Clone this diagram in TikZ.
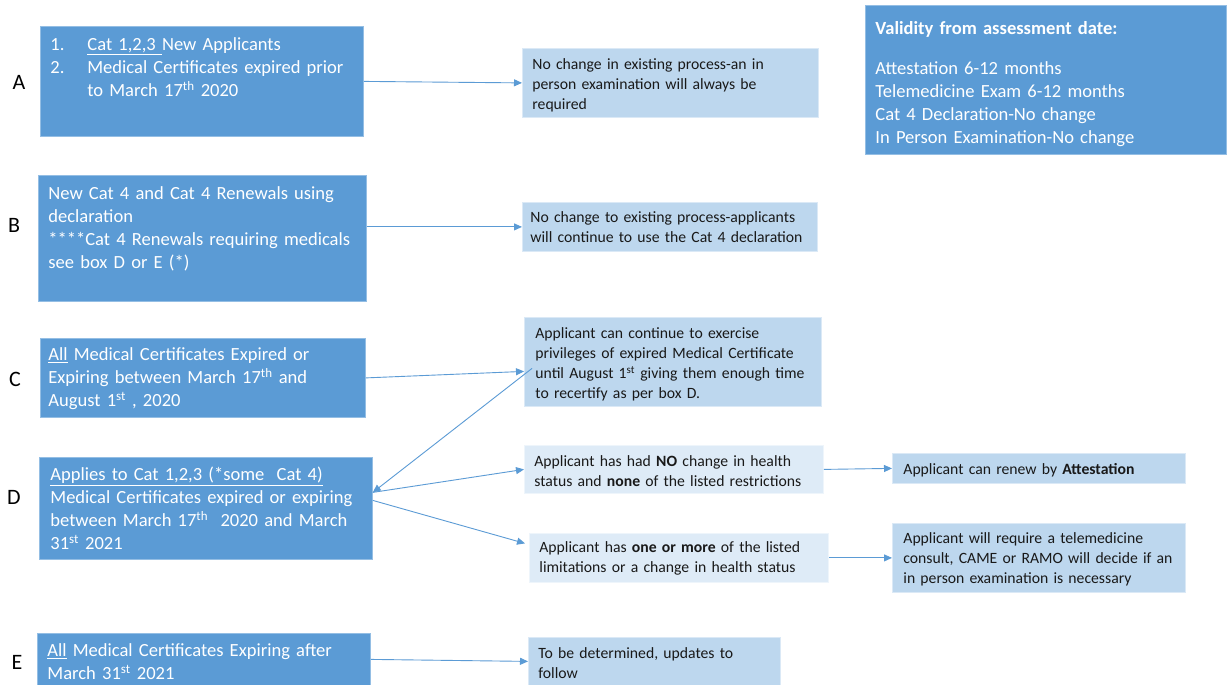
\documentclass[tikz,border=0pt]{standalone}
\usepackage{fontspec}
\setmainfont{Carlito}
\usetikzlibrary{arrows.meta}
\definecolor{boxdark}{RGB}{91,155,213}
\definecolor{boxlight}{RGB}{189,215,238}
\definecolor{boxpale}{RGB}{222,235,247}
\definecolor{linkblue}{RGB}{91,155,213}
\tikzset{
  darkbox/.style={anchor=north west, fill=boxdark, draw=boxdark!65!white, line width=0.8pt,
    text=white, align=left, inner ysep=0pt, font=\fontsize{18.55}{23}\selectfont},
  lightbox/.style={anchor=north west, fill=boxlight, draw=boxlight!55!white, line width=0.8pt,
    text=black!90, align=left, inner ysep=0pt, font=\fontsize{15.7}{20}\selectfont},
  palebox/.style={lightbox, fill=boxpale, draw=boxpale!50!white},
  rowlabel/.style={font=\fontsize{22}{26}\selectfont, text=black},
  link/.style={draw=linkblue, line width=0.9pt, -{Triangle[length=8pt,width=7pt]}}
}
\begin{document}
\begin{tikzpicture}[x=1pt, y=-1pt]
\fill[white] (0,0) rectangle (1231,685);
\useasboundingbox (0,0) rectangle (1231,685);

% Row labels
\node[rowlabel] (labA) at (19,82) {A};
\node[rowlabel] (labB) at (14,225) {B};
\node[rowlabel] (labC) at (15,379) {C};
\node[rowlabel] (labD) at (14,497) {D};
\node[rowlabel] (labE) at (17,662) {E};

% Validity
\node[darkbox, inner xsep=10pt, text width=341pt, text height=29pt, text depth=120pt] (validity) at (865,5)
  {\textbf{Validity from assessment date:}\\[17pt]
   Attestation 6-12 months\\
   Telemedicine Exam 6-12 months\\
   Cat 4 Declaration-No change\\
   In Person Examination-No change};

% Row A
\node[darkbox, inner xsep=10pt, text width=303pt, text height=24pt, text depth=86pt] (boxA) at (40,26)
  {\makebox[37pt][l]{1.}\underline{Cat 1,2,3\ }New Applicants\\
   \makebox[37pt][l]{2.}Medical Certificates expired prior\\
   \hspace*{37pt}to March 17\textsuperscript{th} 2020};
\node[lightbox, inner xsep=10pt, text width=276pt, text height=21.5pt, text depth=47.5pt] (noteA) at (522,48)
  {No change in existing process-an in\\
   person examination will always be\\
   required};
\draw[link] (boxA.east) -- (noteA.west);

% Row B
\node[darkbox, inner xsep=10pt, text width=308pt, text height=24pt, text depth=102pt] (boxB) at (38,175)
  {New Cat 4 and Cat 4 Renewals using\\
   declaration\\{}%
   ****Cat 4 Renewals requiring medicals\\
   see box D or E (*)};
\node[lightbox, inner xsep=8pt, text width=279pt, text height=19.7pt, text depth=29.3pt] (noteB) at (522,202)
  {No change to existing process-applicants\\
   will continue to use the Cat 4 declaration};
\draw[link] (boxB.east |- noteB.west) -- (noteB.west);

% Row C
\node[darkbox, inner xsep=8pt, text width=309pt, text height=22pt, text depth=57pt] (boxC) at (40,338)
  {\underline{All} Medical Certificates Expired or\\
   Expiring between March 17\textsuperscript{th} and\\
   August 1\textsuperscript{st} , 2020};
\node[lightbox, inner xsep=11pt, text width=275pt, text height=21.2pt, text depth=67.8pt] (noteC) at (524,317)
  {Applicant can continue to exercise\\
   privileges of expired Medical Certificate\\
   until August 1\textsuperscript{st} giving them enough time\\
   to recertify as per box D.};
\draw[link] (boxC.east) -- ([yshift=-9.5pt]noteC.west);

% Row D
\node[darkbox, inner xsep=11pt, text width=311pt, text height=23pt, text depth=79pt] (boxD) at (39,457)
  {\underline{Applies to Cat 1,2,3 (*some\ \ Cat 4)}\\
   Medical Certificates expired or expiring\\
   between March 17\textsuperscript{th}\ \ 2020 and March\\
   31\textsuperscript{st} 2021};
\node[palebox, inner xsep=10pt, text width=279pt, text height=21pt, text depth=27pt] (noteDa) at (524,445)
  {Applicant has had \textbf{NO} change in health\\
   status and \textbf{none} of the listed restrictions};
\node[palebox, inner xsep=10pt, text width=279pt, text height=19pt, text depth=30pt] (noteDb) at (529,533)
  {Applicant has \textbf{one or more} of the listed\\
   limitations or a change in health status};
\node[lightbox, inner xsep=11pt, text width=271pt, text height=21pt, text depth=9pt] (attest) at (892,453)
  {Applicant can renew by \textbf{Attestation}};
\node[lightbox, inner xsep=11pt, text width=271pt, text height=20pt, text depth=49pt] (tele) at (892,523)
  {Applicant will require a telemedicine\\
   consult, CAME or RAMO will decide if an\\
   in person examination is necessary};
\draw[link] ([xshift=8pt,yshift=-6.5pt]noteC.west) -- ([yshift=16pt]boxD.east);
\draw[link] ([yshift=16pt]boxD.east) -- (noteDa.west);
\draw[link] ([yshift=8pt]boxD.east) -- ([xshift=-4pt,yshift=14.5pt]noteDb.west);
\draw[link] (noteDa.east) -- (attest.west);
\draw[link] (noteDb.east) -- (tele.west);

% Row E
\node[darkbox, inner xsep=10pt, text width=313pt, text height=23pt, text depth=29pt] (boxE) at (37,633)
  {\underline{All} Medical Certificates Expiring after\\
   March 31\textsuperscript{st} 2021};
\node[lightbox, inner xsep=10pt, text width=232pt, text height=21pt, text depth=27pt] (noteE) at (528,637)
  {To be determined, updates to\\
   follow};
\draw[link] (boxE.east) -- (noteE.west);
\end{tikzpicture}
\end{document}
